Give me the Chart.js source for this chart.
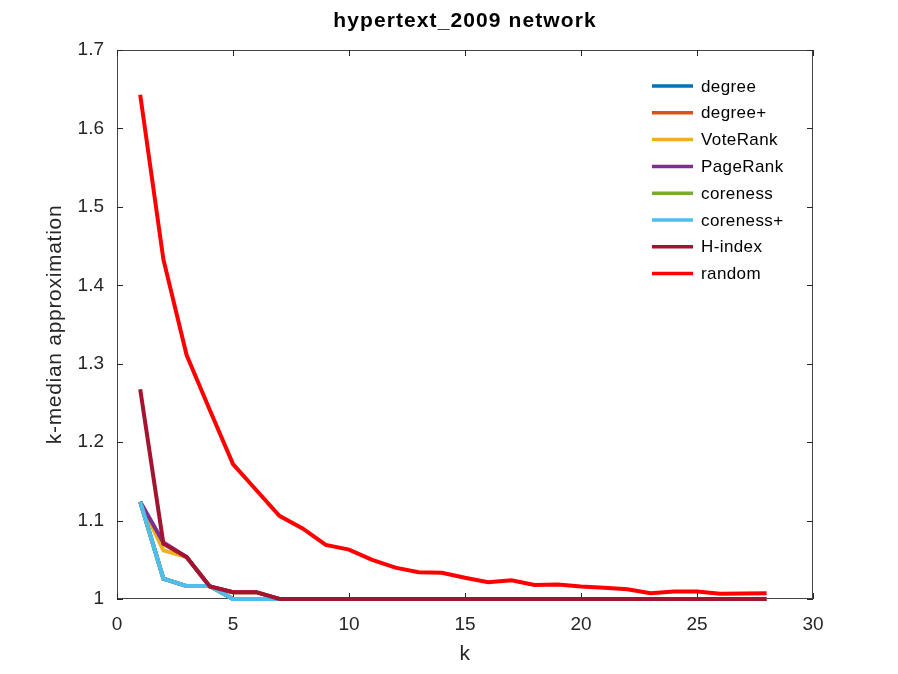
<!DOCTYPE html>
<html>
<head>
<meta charset="utf-8">
<script src="https://cdn.jsdelivr.net/npm/chart.js@4/dist/chart.umd.min.js"></script>
<style>
  html, body { margin: 0; padding: 0; background: #fff; }
  #wrap { width: 898px; height: 674px; }
</style>
</head>
<body>
<div id="wrap"><canvas id="mainChart"></canvas></div>
<script>
// k values
var kValues = [1, 2, 3, 4, 5, 6, 7, 8, 9, 10, 11, 12, 13, 14, 15, 16, 17, 18, 19, 20, 21, 22, 23, 24, 25, 26, 27, 28];

var degree     = [1.124, 1.026, 1.0165, 1.0165, 1, 1, 1, 1, 1, 1, 1, 1, 1, 1, 1, 1, 1, 1, 1, 1, 1, 1, 1, 1, 1, 1, 1, 1];
var degreePlus = [1.124, 1.026, 1.0165, 1.0165, 1, 1, 1, 1, 1, 1, 1, 1, 1, 1, 1, 1, 1, 1, 1, 1, 1, 1, 1, 1, 1, 1, 1, 1];
var voteRank   = [1.124, 1.062, 1.0535, 1.016, 1.0087, 1.0087, 1, 1, 1, 1, 1, 1, 1, 1, 1, 1, 1, 1, 1, 1, 1, 1, 1, 1, 1, 1, 1, 1];
var pageRank   = [1.124, 1.072, 1.0535, 1.016, 1.0087, 1.0087, 1, 1, 1, 1, 1, 1, 1, 1, 1, 1, 1, 1, 1, 1, 1, 1, 1, 1, 1, 1, 1, 1];
var coreness   = [1.124, 1.026, 1.0165, 1.0165, 1, 1, 1, 1, 1, 1, 1, 1, 1, 1, 1, 1, 1, 1, 1, 1, 1, 1, 1, 1, 1, 1, 1, 1];
var corenessPlus = [1.124, 1.026, 1.0165, 1.0165, 1, 1, 1, 1, 1, 1, 1, 1, 1, 1, 1, 1, 1, 1, 1, 1, 1, 1, 1, 1, 1, 1, 1, 1];
var hIndex     = [1.2675, 1.0706, 1.0535, 1.016, 1.0087, 1.0087, 1, 1, 1, 1, 1, 1, 1, 1, 1, 1, 1, 1, 1, 1, 1, 1, 1, 1, 1, 1, 1, 1];
var random     = [1.643, 1.433, 1.311, 1.241, 1.172, 1.139, 1.106, 1.090, 1.069, 1.063, 1.050, 1.040, 1.034, 1.0335, 1.027, 1.0215, 1.024, 1.018, 1.0185, 1.016, 1.0143, 1.0125, 1.0074, 1.0096, 1.0095, 1.0066, 1.007, 1.0074];

var seriesNames = ['degree', 'degree+', 'VoteRank', 'PageRank', 'coreness', 'coreness+', 'H-index', 'random'];
var seriesData = [degree, degreePlus, voteRank, pageRank, coreness, corenessPlus, hIndex, random];
var seriesColors = ['#0072BD', '#D95319', '#EDB120', '#7E2F8E', '#77AC30', '#4DBEEE', '#A2142F', '#FF0000'];

var xTickStep = 5;
var yTickStep = 0.1;

var titleText = 'hypertext_2009 network';
var xLabel = 'k';
var yLabel = 'k-median approximation';

var FONT = "'Liberation Sans', Arial, sans-serif";
var AXIS_COLOR = '#262626';

function toPoints(values) {
    return values.map(function (v, i) { return { x: kValues[i], y: v }; });
}

var datasets = seriesData.map(function (values, i) {
    return {
        label: seriesNames[i],
        data: toPoints(values),
        borderColor: seriesColors[i],
        backgroundColor: seriesColors[i],
        borderWidth: 4,
        pointRadius: 0,
        tension: 0,
        fill: false,
        clip: false,
        // later series on top, like the original plot
        order: seriesData.length - i
    };
});

// box + inward ticks under the lines, texts and legend on top
var decorPlugin = {
    id: 'decor',
    beforeDatasetsDraw: function (chart) {
        var ctx = chart.ctx;
        var area = chart.chartArea;
        var xs = chart.scales.x;
        var ys = chart.scales.y;
        var tick = 6;

        ctx.save();
        ctx.strokeStyle = '#444';
        ctx.lineWidth = 1;
        ctx.strokeRect(area.left + 0.5, area.top + 0.5, area.right - area.left - 1, area.bottom - area.top - 1);

        ctx.strokeStyle = AXIS_COLOR;
        ctx.beginPath();
        xs.ticks.forEach(function (t) {
            var px = Math.round(xs.getPixelForValue(t.value)) + 0.5;
            ctx.moveTo(px, area.bottom);
            ctx.lineTo(px, area.bottom - tick);
            ctx.moveTo(px, area.top);
            ctx.lineTo(px, area.top + tick);
        });
        ys.ticks.forEach(function (t) {
            var py = Math.round(ys.getPixelForValue(t.value)) + 0.5;
            ctx.moveTo(area.left, py);
            ctx.lineTo(area.left + tick, py);
            ctx.moveTo(area.right, py);
            ctx.lineTo(area.right - tick, py);
        });
        ctx.stroke();
        ctx.restore();
    },
    afterDatasetsDraw: function (chart) {
        var ctx = chart.ctx;
        var area = chart.chartArea;
        var cx = (area.left + area.right) / 2;
        var cy = (area.top + area.bottom) / 2;

        ctx.save();
        ctx.textAlign = 'center';
        ctx.textBaseline = 'alphabetic';

        // title
        ctx.fillStyle = '#000';
        ctx.font = 'bold 21px ' + FONT;
        ctx.letterSpacing = '1.1px';
        ctx.fillText(titleText, cx, 27);

        // axis titles
        ctx.fillStyle = AXIS_COLOR;
        ctx.font = '21px ' + FONT;
        ctx.letterSpacing = '0.7px';
        ctx.fillText(xLabel, cx, 660);

        ctx.save();
        ctx.translate(61, cy);
        ctx.rotate(-Math.PI / 2);
        ctx.fillText(yLabel, 0, 0);
        ctx.restore();

        // legend
        var lx = 652, ly = 86, step = 26.8;
        ctx.font = '17px ' + FONT;
        ctx.letterSpacing = '0.4px';
        ctx.textAlign = 'left';
        ctx.textBaseline = 'middle';
        ctx.lineWidth = 3.5;
        chart.data.datasets.forEach(function (ds, i) {
            var y = ly + i * step;
            ctx.strokeStyle = ds.borderColor;
            ctx.beginPath();
            ctx.moveTo(lx, y);
            ctx.lineTo(lx + 41, y);
            ctx.stroke();
            ctx.fillStyle = '#000';
            ctx.fillText(ds.label, lx + 49, y + 1);
        });
        ctx.restore();
    }
};

var mainChart = new Chart(document.getElementById('mainChart'), {
    type: 'line',
    data: { datasets: datasets },
    options: {
        responsive: true,
        maintainAspectRatio: false,
        animation: false,
        devicePixelRatio: 1,
        layout: { padding: { top: 50, right: 85, left: 0, bottom: 0 } },
        plugins: {
            legend: { display: false },
            title: { display: false },
            tooltip: { enabled: false }
        },
        scales: {
            x: {
                type: 'linear',
                min: 0,
                max: 30,
                afterFit: function (scale) { scale.height = 75; },
                ticks: {
                    stepSize: xTickStep,
                    color: AXIS_COLOR,
                    font: { family: FONT, size: 19 },
                    padding: 14,
                    maxRotation: 0
                },
                grid: { display: false, drawTicks: false },
                border: { display: false }
            },
            y: {
                type: 'linear',
                min: 1,
                max: 1.7,
                afterFit: function (scale) { scale.width = 117; },
                ticks: {
                    stepSize: yTickStep,
                    color: AXIS_COLOR,
                    font: { family: FONT, size: 19 },
                    padding: 13,
                    callback: function (v) { return String(Math.round(v * 10) / 10); }
                },
                grid: { display: false, drawTicks: false },
                border: { display: false }
            }
        }
    },
    plugins: [decorPlugin]
});
</script>
</body>
</html>
